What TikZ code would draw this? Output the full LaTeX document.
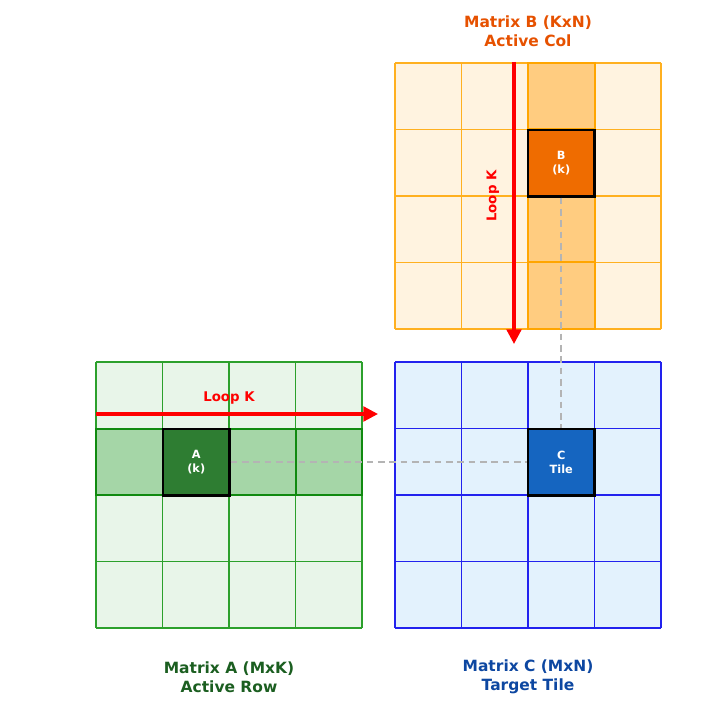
\documentclass[tikz,border=0pt]{standalone}
\usepackage{fontspec}
\setmainfont{DejaVu Sans}
\usetikzlibrary{arrows.meta}

\definecolor{aLight}{HTML}{E8F5E9}
\definecolor{aLine}{HTML}{2CA02C}
\definecolor{aRow}{HTML}{A5D6A7}
\definecolor{aEdge}{HTML}{108A10}
\definecolor{aDark}{HTML}{2E7D32}
\definecolor{aTitle}{HTML}{1B5E20}
\definecolor{bLight}{HTML}{FFF3E0}
\definecolor{bLine}{HTML}{FFB020}
\definecolor{bCol}{HTML}{FFCC80}
\definecolor{bEdge}{HTML}{FFA500}
\definecolor{bDark}{HTML}{EF6C00}
\definecolor{bTitle}{HTML}{E65100}
\definecolor{cLight}{HTML}{E3F2FD}
\definecolor{cLine}{HTML}{2222EE}
\definecolor{cDark}{HTML}{1565C0}
\definecolor{cTitle}{HTML}{0D47A1}
\definecolor{guide}{HTML}{B4B4B4}

\tikzset{
  tile/.style={draw=black, line width=1.6pt, minimum size=49.9pt, inner sep=0pt,
    align=center, text=white, font=\bfseries\fontsize{8.5}{10.5}\selectfont},
  looparrow/.style={draw=red, line width=2.4pt, -{Triangle[length=11pt,width=11pt]}},
  looplabel/.style={text=red, inner sep=0.75pt, font=\bfseries\fontsize{10}{12}\selectfont},
  caption/.style={align=center, inner sep=0.75pt, font=\bfseries\fontsize{11.6}{14.3}\selectfont},
  guideline/.style={draw=guide, line width=1.2pt, dash pattern={on 5pt off 3.5pt}}
}

\begin{document}
\begin{tikzpicture}[x=0.75pt,y=0.75pt,yscale=-1,xscale=1]
\useasboundingbox (0,0) rectangle (725,712);

% Matrix A grid
\fill[aLight] (96,362) rectangle (362,628);
\foreach \i in {0,...,4} {
  \draw[aLine, line width=0.8pt] (96+66.5*\i,362) -- (96+66.5*\i,628);
  \draw[aLine, line width=0.8pt] (96,362+66.5*\i) -- (362,362+66.5*\i);
}
% Active row
\foreach \i in {0,...,3}
  \draw[fill=aRow, draw=aEdge, line width=1.5pt] (96+66.5*\i,429) rectangle ++(66.5,66.5);

% Matrix B grid
\fill[bLight] (395,63) rectangle (661,329);
\foreach \i in {0,...,4} {
  \draw[bLine, line width=0.8pt] (395+66.5*\i,63) -- (395+66.5*\i,329);
  \draw[bLine, line width=0.8pt] (395,63+66.5*\i) -- (661,63+66.5*\i);
}
% Active column
\foreach \i in {0,...,3}
  \draw[fill=bCol, draw=bEdge, line width=1.5pt] (528,63+66.5*\i) rectangle ++(66.5,66.5);

% Matrix C grid
\fill[cLight] (395,362) rectangle (661,628);
\foreach \i in {0,...,4} {
  \draw[cLine, line width=0.8pt] (395+66.5*\i,362) -- (395+66.5*\i,628);
  \draw[cLine, line width=0.8pt] (395,362+66.5*\i) -- (661,362+66.5*\i);
}

% Tiles
\node[tile, fill=aDark] (Ak) at (196.25,462.25) {A\\(k)};
\node[tile, fill=bDark] (Bk) at (561.25,163.25) {B\\(k)};
\node[tile, fill=cDark] (Ct) at (561.25,462.25) {C\\Tile};

% Guides
\draw[guideline] (Ak.east) -- (Ct.west);
\draw[guideline] (Bk.south) -- (Ct.north);

% Loop K arrows
\coordinate (rowStart) at (96,414);
\coordinate (rowEnd) at (378,414);
\draw[looparrow] (rowStart) -- (rowEnd);
\node[looplabel] (rowLoop) at (229,398) {Loop K};
\coordinate (colStart) at (514,62);
\coordinate (colEnd) at (514,344);
\draw[looparrow] (colStart) -- (colEnd);
\node[looplabel, rotate=90] (colLoop) at (493,196) {Loop K};

% Captions
\node[caption, text=bTitle] (capB) at (528,31) {Matrix B (KxN)\\Active Col};
\node[caption, text=aTitle] (capA) at (229,677) {Matrix A (MxK)\\Active Row};
\node[caption, text=cTitle] (capC) at (528,677) {Matrix C (MxN)\\Target Tile};

\end{tikzpicture}
\end{document}
